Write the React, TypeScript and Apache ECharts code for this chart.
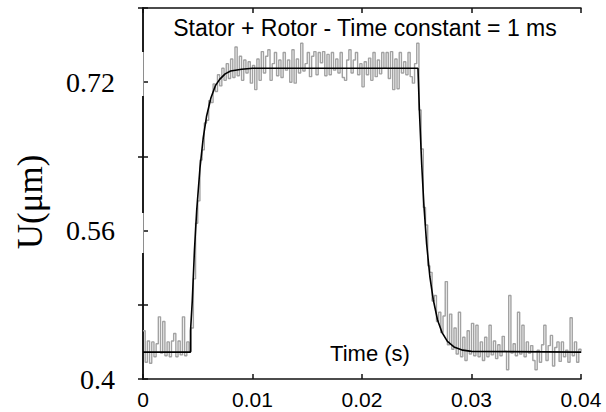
import React, { useEffect, useRef } from "react";
import * as echarts from "echarts";

// Axis setup
const xTickValues = [0, 0.01, 0.02, 0.03, 0.04];
const xTickLabels = ["0", "0.01", "0.02", "0.03", "0.04"];
const yLabelValues = [0.4, 0.56, 0.72];
const yLabelTexts = ["0.4", "0.56", "0.72"];

// Measured signal (gray), one sample every 0.2 ms starting at t = 0
const sampleStep = 0.0002;
const measuredValues = [
  0.452, 0.418, 0.441, 0.417, 0.44, 0.424, 0.438, 0.467, 0.428, 0.462, 0.425, 0.44, 0.424, 0.441, 0.449, 0.424, 0.441, 0.426, 0.467, 0.425, 0.44, 0.43,
  0.455, 0.508, 0.568, 0.592, 0.636, 0.647, 0.676, 0.679, 0.7, 0.698, 0.718, 0.71, 0.728, 0.716, 0.735, 0.722, 0.74, 0.724, 0.745, 0.725, 0.758,
  0.727, 0.748, 0.722, 0.744, 0.73, 0.742, 0.719, 0.738, 0.712, 0.745,
  0.722, 0.753, 0.73, 0.748, 0.755, 0.722, 0.74, 0.752, 0.727, 0.744,
  0.725, 0.752, 0.733, 0.744, 0.72, 0.755, 0.719, 0.745, 0.73, 0.762,
  0.732, 0.74, 0.752, 0.726, 0.748, 0.753, 0.728, 0.752, 0.741, 0.753,
  0.727, 0.75, 0.728, 0.752, 0.733, 0.745, 0.73, 0.752, 0.725, 0.722,
  0.744, 0.755, 0.73, 0.744, 0.752, 0.728, 0.74, 0.715, 0.742, 0.728,
  0.746, 0.722, 0.752, 0.726, 0.744, 0.729, 0.752, 0.735, 0.752, 0.724,
  0.753, 0.712, 0.745, 0.713, 0.752, 0.73, 0.742, 0.728, 0.752, 0.726,
  0.719, 0.74, 0.762,
  0.69, 0.648, 0.585, 0.566, 0.522, 0.515, 0.484, 0.49, 0.462, 0.472,
  0.45, 0.468, 0.505, 0.437, 0.47, 0.432, 0.455, 0.427, 0.472, 0.424,
  0.445, 0.42, 0.452, 0.427, 0.46, 0.425, 0.458, 0.424, 0.44, 0.42,
  0.445, 0.424, 0.458, 0.426, 0.441, 0.422, 0.437, 0.425, 0.446, 0.43,
  0.41, 0.49, 0.428, 0.438, 0.425, 0.472, 0.427, 0.458, 0.424, 0.44,
  0.428, 0.436, 0.42, 0.41, 0.431, 0.418, 0.437, 0.458, 0.42, 0.436,
  0.447, 0.414, 0.434, 0.44, 0.419, 0.44, 0.424, 0.431, 0.418, 0.466,
  0.425, 0.44, 0.418, 0.432, 0.428,
];

// Fitted first-order response (black)
const fitTimes = [
  0, 0.00434, 0.00434, 0.0045, 0.0047, 0.0049, 0.0052, 0.0055, 0.0058, 0.0062, 0.0066, 0.007, 0.0075, 0.008, 0.009, 0.01,
  0.02511, 0.02525, 0.02545, 0.02565, 0.0259, 0.0262, 0.0265, 0.0269, 0.0273, 0.0278, 0.0284, 0.0292, 0.03, 0.04,
];
const fitValues = [
  0.429, 0.429, 0.452, 0.484, 0.539, 0.581, 0.627, 0.66, 0.683, 0.703, 0.716, 0.723, 0.729, 0.732, 0.734, 0.735,
  0.735, 0.687, 0.632, 0.588, 0.546, 0.51, 0.486, 0.4636, 0.4503, 0.4405, 0.4346, 0.4311, 0.4298, 0.429,
];

const matchLabel = (v: number, vals: number[], texts: string[]) => {
  const i = vals.findIndex((t) => Math.abs(t - v) < 1e-9);
  return i >= 0 ? texts[i] : "";
};

export default function App() {
  const ref = useRef<HTMLDivElement>(null);
  useEffect(() => {
    const chart = echarts.init(ref.current!, null, { renderer: "svg" });
    const measured = measuredValues.map((v, i) => [i * sampleStep, v]);
    const fit = fitTimes.map((t, i) => [t, fitValues[i]]);
    const axisLine = { show: true, lineStyle: { color: "#111", width: 1.5 } };
    const tick = { show: true, inside: true, length: 5, lineStyle: { color: "#111", width: 1.5 } };
    chart.setOption({
      animation: false,
      backgroundColor: "#fff",
      grid: { left: 143, right: 25, top: 8, bottom: 33, containLabel: false },
      xAxis: [
        {
          type: "value", min: 0, max: 0.04, interval: 0.01, position: "bottom",
          axisLine, axisTick: tick, splitLine: { show: false },
          axisLabel: {
            margin: 10, color: "#000", fontFamily: "Liberation Sans", fontSize: 21,
            formatter: (v: number) => matchLabel(v, xTickValues, xTickLabels),
          },
        },
        {
          type: "value", min: 0, max: 0.04, interval: 0.01, position: "top",
          axisLine, axisTick: tick, splitLine: { show: false }, axisLabel: { show: false },
        },
      ],
      yAxis: [
        {
          type: "value", min: 0.4, max: 0.8, interval: 0.08, position: "left",
          axisLine, axisTick: tick, splitLine: { show: false },
          axisLabel: {
            margin: 28, color: "#000", fontFamily: "Liberation Serif", fontSize: 28,
            formatter: (v: number) => matchLabel(v, yLabelValues, yLabelTexts),
          },
        },
        {
          type: "value", min: 0.4, max: 0.8, interval: 0.08, position: "right",
          axisLine, axisTick: tick, splitLine: { show: false }, axisLabel: { show: false },
        },
      ],
      series: [
        {
          type: "line", data: measured, step: "end", showSymbol: false, symbol: "none",
          lineStyle: { color: "#a2a2a2", width: 1.4 }, z: 2,
        },
        {
          type: "line", data: fit, showSymbol: false, symbol: "none",
          lineStyle: { color: "#000", width: 1.6 }, z: 3,
        },
      ],
      graphic: [
        { type: "rect", z: 100, shape: { x: 138, y: 52, width: 5.5, height: 44 }, style: { fill: "#fff" } },
        { type: "rect", z: 100, shape: { x: 138, y: 213, width: 5.5, height: 40 }, style: { fill: "#fff" } },
        {
          type: "text", z: 100, x: 365, y: 28,
          style: { text: "Stator + Rotor - Time constant = 1 ms", fontFamily: "Liberation Sans", fontSize: 23, fill: "#000", textAlign: "center", textVerticalAlign: "middle" },
        },
        {
          type: "text", z: 100, x: 370, y: 353,
          style: { text: "Time (s)", fontFamily: "Liberation Sans", fontSize: 22, fill: "#000", textAlign: "center", textVerticalAlign: "middle" },
        },
        {
          type: "text", z: 100, x: 30, y: 202, rotation: Math.PI / 2,
          style: { text: "U(μm)", fontFamily: "Liberation Serif", fontSize: 35, fill: "#000", textAlign: "center", textVerticalAlign: "middle" },
        },
      ],
    });
    return () => chart.dispose();
  }, []);
  return (
    <div
      ref={ref}
      style={{ position: "absolute", left: 0, top: 0, width: 606, height: 412, background: "#fff" }}
    />
  );
}
